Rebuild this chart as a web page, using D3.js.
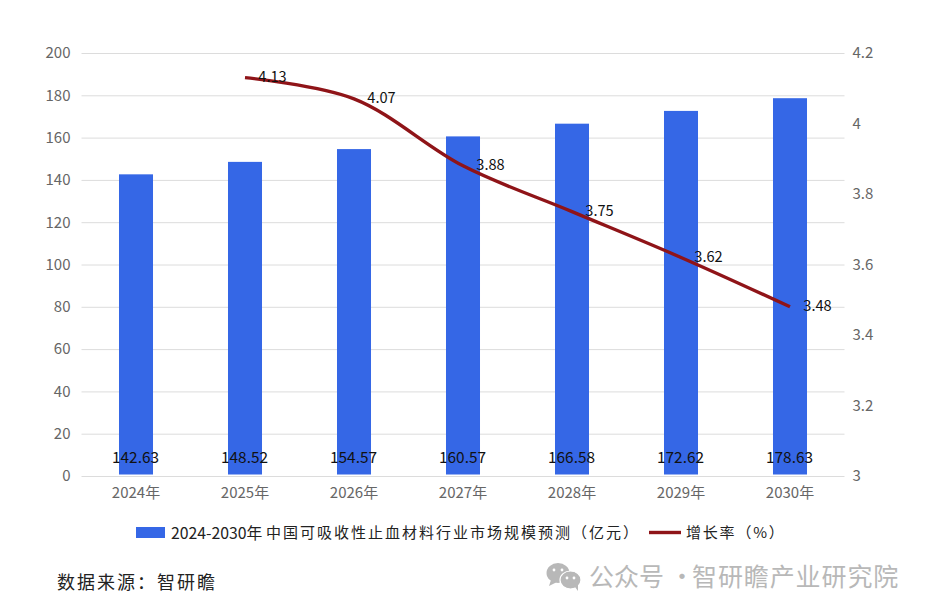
<!DOCTYPE html>
<html><head><meta charset="utf-8">
<style>
html,body{margin:0;padding:0;background:#fff}
svg{display:block}
text{font-family:"Noto Sans CJK SC","Liberation Sans",sans-serif}
</style>
<script src="https://cdn.jsdelivr.net/npm/d3@7/dist/d3.min.js"></script>
</head><body>
<svg id="c" width="928" height="614"></svg>
<script>
const categories=["2024年","2025年","2026年","2027年","2028年","2029年","2030年"];
const marketSize=[142.63,148.52,154.57,160.57,166.58,172.62,178.63];
const growthYears=["2025年","2026年","2027年","2028年","2029年","2030年"];
const growthRate=[4.13,4.07,3.88,3.75,3.62,3.48];
const leftTicks=[0,20,40,60,80,100,120,140,160,180,200];
const rightTicks=[3,3.2,3.4,3.6,3.8,4,4.2];
const barNameYears="2024-2030年";
const barName="中国可吸收性止血材料行业市场规模预测（亿元）";
const lineName="增长率（%）";
const sourceText="数据来源：智研瞻";
const watermarkA="公众号 ·";
const watermarkB="智研瞻产业研究院";

const svg=d3.select("#c");
const x=d3.scaleBand().domain(categories).range([81.5,844.5]).paddingInner(0.688).paddingOuter(0.344);
const yL=d3.scaleLinear().domain([0,200]).range([476,53]);
const yR=d3.scaleLinear().domain([3,4.2]).range([476,53]);
const cx=c=>x(c)+x.bandwidth()/2;

// grid
svg.append("g").selectAll("line").data(leftTicks).join("line")
  .attr("x1",81.5).attr("x2",844.5).attr("y1",d=>yL(d)+.5).attr("y2",d=>yL(d)+.5)
  .attr("stroke","#dcdcdc").attr("stroke-width",1);

// axes
const gL=svg.append("g").attr("transform","translate(81.5,0)")
  .call(d3.axisLeft(yL).tickValues(leftTicks).tickSize(0).tickPadding(11));
const gR=svg.append("g").attr("transform","translate(844.5,0)")
  .call(d3.axisRight(yR).tickValues(rightTicks).tickFormat(d=>String(d)).tickSize(0).tickPadding(8));
const gB=svg.append("g").attr("transform","translate(0,476)")
  .call(d3.axisBottom(x).tickSize(0).tickPadding(11));
[gL,gR,gB].forEach(g=>{g.select(".domain").remove();
  g.selectAll("text").attr("fill","#666").style("font-size","15px").style("font-family",'"Noto Sans CJK SC","Liberation Sans",sans-serif');});

// bars
svg.append("g").selectAll("rect").data(marketSize).join("rect")
  .attr("x",(d,i)=>x(categories[i])).attr("width",x.bandwidth())
  .attr("y",d=>yL(d)).attr("height",d=>yL(0)-yL(d)-1.5).attr("fill","#3567e6");

// line
const line=d3.line().x((d,i)=>cx(growthYears[i])).y(d=>yR(d)).curve(d3.curveCatmullRom.alpha(0.5));
svg.append("path").datum(growthRate).attr("d",line).attr("fill","none")
  .attr("stroke","#8f1418").attr("stroke-width",3.4);

// labels
svg.append("g").selectAll("text").data(marketSize).join("text")
  .attr("x",(d,i)=>cx(categories[i])-.5).attr("y",458).attr("dy","0.35em").attr("text-anchor","middle")
  .attr("fill","#111").style("font-size","15.4px").text(d=>d.toFixed(2));
svg.append("g").selectAll("text").data(growthRate).join("text")
  .attr("x",(d,i)=>cx(growthYears[i])+27.5).attr("y",d=>yR(d)-.5).attr("dy","0.35em").attr("text-anchor","middle")
  .attr("fill","#111").style("font-size","14.6px").text(d=>d.toFixed(2));

// legend
const lg=svg.append("g");
lg.append("rect").attr("x",136).attr("y",527).attr("width",29).attr("height",11).attr("fill","#3567e6");
lg.append("text").attr("x",171).attr("y",533).attr("dy","0.35em").attr("fill","#222").style("font-size","15.8px").text(barNameYears);
lg.append("text").attr("x",266).attr("y",532.5).attr("dy","0.35em").attr("fill","#222").style("font-size","15px").style("letter-spacing","2px").text(barName);
lg.append("line").attr("x1",649).attr("x2",681).attr("y1",532.5).attr("y2",532.5).attr("stroke","#8f1418").attr("stroke-width",3.4);
lg.append("text").attr("x",686).attr("y",532.5).attr("dy","0.35em").attr("fill","#222").style("font-size","15px").style("letter-spacing","1.8px").text(lineName);

// source
svg.append("text").attr("x",57).attr("y",583).attr("dy","0.35em").attr("fill","#222").style("font-size","18px").style("letter-spacing","2px").text(sourceText);

// watermark
const wm=svg.append("g").attr("fill","#b8b8b8");
wm.append("ellipse").attr("cx",558).attr("cy",573).attr("rx",11.5).attr("ry",10);
wm.append("path").attr("d","M551 580 L549 586 L557 582 Z");
wm.append("ellipse").attr("cx",570.5).attr("cy",580).attr("rx",10.5).attr("ry",9).attr("stroke","#fff").attr("stroke-width",1.2);
wm.append("path").attr("d","M575 587 L578 591 L578 584 Z");
[[554,570],[562,570],[567,578],[574,578]].forEach(p=>wm.append("circle").attr("cx",p[0]).attr("cy",p[1]).attr("r",1.4).attr("fill","#fff"));
const wmText=(s,px,fs,ls)=>wm.append("text").attr("x",px).attr("y",577).attr("dy","0.35em").attr("fill","#b8b8b8").style("font-size",fs).style("letter-spacing",ls).text(s);
wmText(watermarkA,589,"25px","0px");
wmText(watermarkB,692,"25px","0.9px");
</script>
</body></html>
